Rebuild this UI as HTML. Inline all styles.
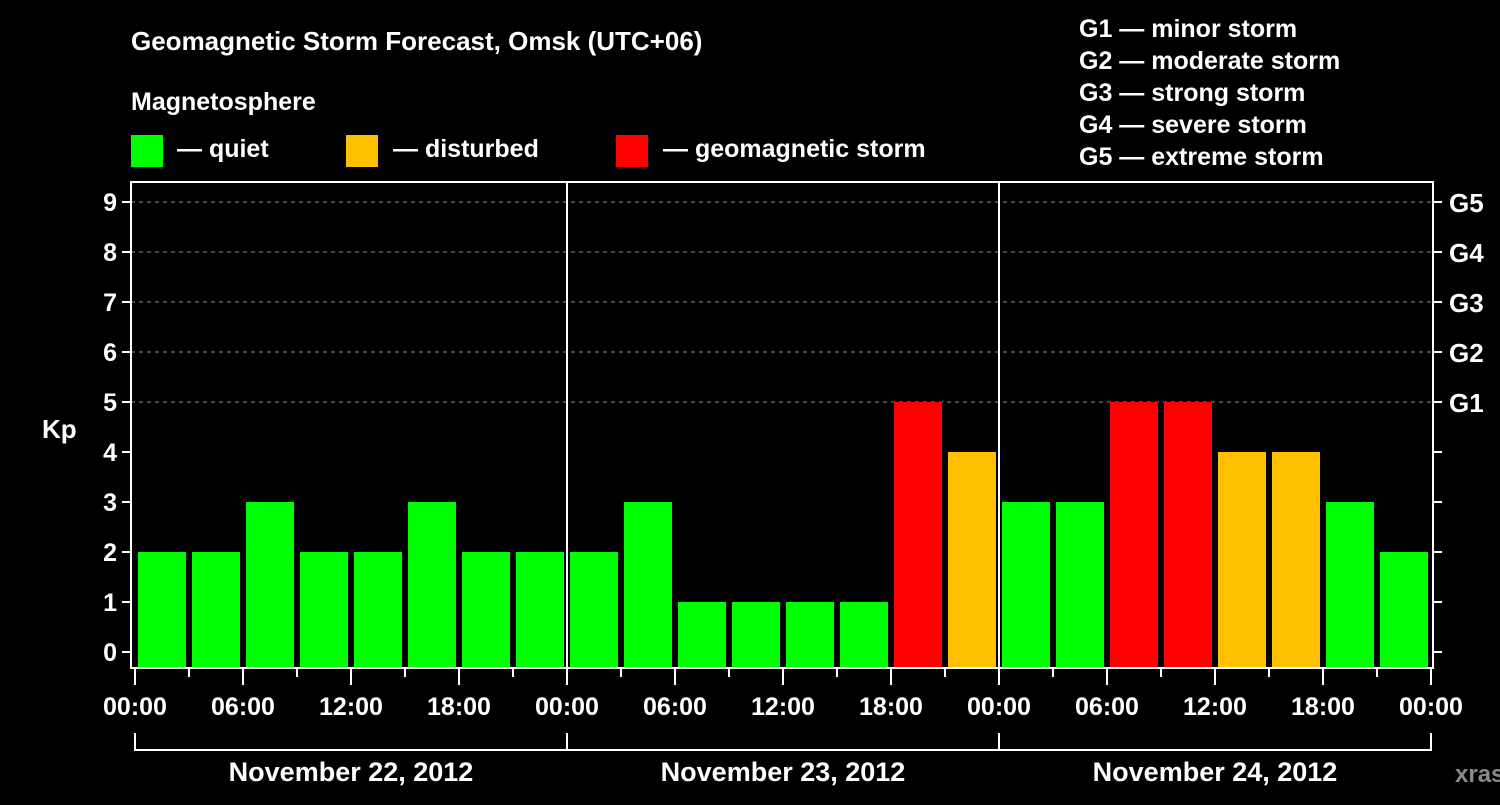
<!DOCTYPE html>
<html><head><meta charset="utf-8"><style>
body{margin:0;background:#000;width:1500px;height:800px;overflow:hidden}
svg text{font-family:"Liberation Sans",Arial,sans-serif;font-weight:bold;fill:#fff}
</style></head><body>
<svg id="c" width="1500" height="800" xmlns="http://www.w3.org/2000/svg">
<rect width="1500" height="800" fill="#000"/>
<text x="131" y="50" font-size="26">Geomagnetic Storm Forecast, Omsk (UTC+06)</text>
<text x="131" y="110" font-size="25">Magnetosphere</text>
<g><rect x="131" y="135" width="32" height="32" fill="#00ff00"/><text x="177" y="157" font-size="25">— quiet</text></g>
<g><rect x="346" y="135" width="32" height="32" fill="#ffc000"/><text x="393" y="157" font-size="25">— disturbed</text></g>
<g><rect x="616" y="135" width="32" height="32" fill="#ff0000"/><text x="663" y="157" font-size="25">— geomagnetic storm</text></g>
<g font-size="25">
<text x="1079" y="37">G1 — minor storm</text>
<text x="1079" y="69">G2 — moderate storm</text>
<text x="1079" y="101">G3 — strong storm</text>
<text x="1079" y="133">G4 — severe storm</text>
<text x="1079" y="165">G5 — extreme storm</text>
</g>
<text x="42" y="438" font-size="26">Kp</text>
<text x="1455" y="782" font-size="24" fill="#888" style="fill:#8a8a8a">xras.ru</text>
<g id="grid"></g><g id="bars"></g><g id="axes"></g>
</svg>
<script>
const kpValues=[2,2,3,2,2,3,2,2, 2,3,1,1,1,1,5,4, 3,3,5,5,4,4,3,2];
const dayLabels=["November 22, 2012","November 23, 2012","November 24, 2012"];
const hourLabels=["00:00","06:00","12:00","18:00"];
const gLabels=["G1","G2","G3","G4","G5"];
const NS="http://www.w3.org/2000/svg";
const X0=135,DAY=432,BAR=DAY/8,L=131,R=1433,T=182,B=668;
const y=v=>652-50*v, x=i=>X0+BAR*i;
function mk(t,a,p){const e=document.createElementNS(NS,t);for(const k in a)e.setAttribute(k,a[k]);p.appendChild(e);return e;}
const grid=document.getElementById('grid'),bars=document.getElementById('bars'),axes=document.getElementById('axes');
for(let v=5;v<=9;v++){const l=mk('line',{x1:L,x2:R,y1:y(v),y2:y(v),stroke:'#888','stroke-dasharray':'4,4','stroke-width':1},grid);

}
kpValues.forEach((v,i)=>{const c=v>=5?'#ff0000':v>=4?'#ffc000':'#00ff00';
const r=mk('rect',{x:x(i)+3,y:y(v),width:BAR-6,height:B-y(v),fill:c},bars);

});
for(let d=1;d<3;d++){const l=mk('line',{x1:x(d*8),x2:x(d*8),y1:T,y2:B,stroke:'#fff','stroke-width':2},axes);

}
const f=mk('rect',{x:L,y:T,width:R-L,height:B-T,fill:'none',stroke:'#fff','stroke-width':2},axes);


for(let v=0;v<=9;v++){
 mk('line',{x1:L-9,x2:L,y1:y(v),y2:y(v),stroke:'#fff','stroke-width':2},axes);
 mk('line',{x1:R,x2:R+9,y1:y(v),y2:y(v),stroke:'#fff','stroke-width':2},axes);
 const t=mk('text',{x:L-14,y:y(v)+9,'font-size':25,'text-anchor':'end'},axes);t.textContent=v;
 
 
 if(v>=5){const g=mk('text',{x:1449,y:y(v)+10,'font-size':26},axes);g.textContent=gLabels[v-5];
 
 }
}
for(let i=0;i<=24;i++){const major=i%2==0;
 mk('line',{x1:x(i),x2:x(i),y1:B,y2:B+(major?17:9),stroke:'#fff','stroke-width':2},axes);
 if(major&&i%2==0&&(i%2==0)){ if(i%2==0 && (i/2)%1==0){ const idx=(i/2)%4; if(i%2==0){const t=mk('text',{x:x(i),y:715,'font-size':25,'text-anchor':'middle'},axes);t.textContent=hourLabels[idx];
 
 }}}
}
dayLabels.forEach((d,k)=>{
 const x1=x(k*8),x2=x(k*8+8);
 mk('path',{d:`M${x1} 733V750H${x2}V733`,fill:'none',stroke:'#fff','stroke-width':2},axes);
 const t=mk('text',{x:(x1+x2)/2,y:781,'font-size':27,'text-anchor':'middle'},axes);t.textContent=d;
 
 
});
</script>
</body></html>
